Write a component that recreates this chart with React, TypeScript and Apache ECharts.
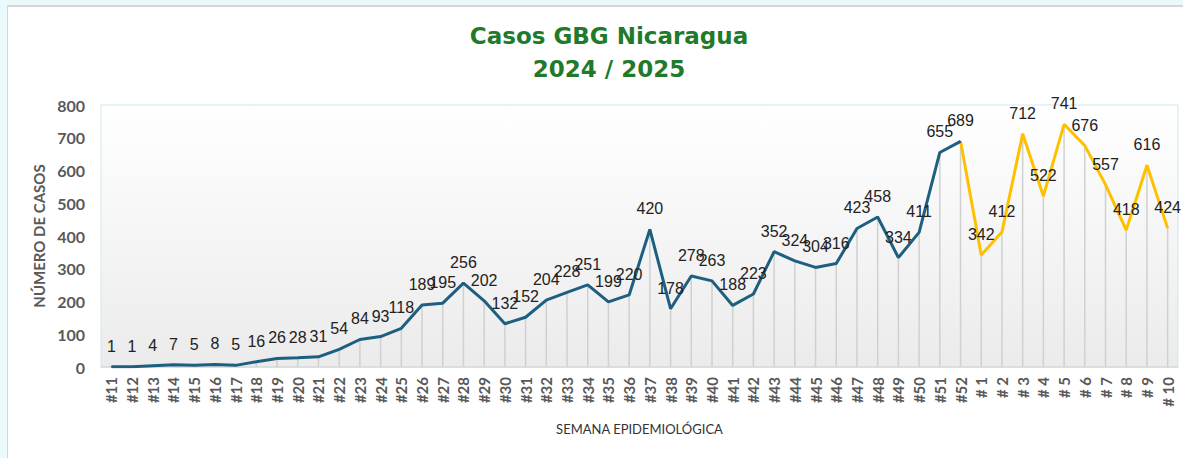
import React, { useEffect, useRef } from "react";
import * as echarts from "echarts";

const weeks2024: string[] = [
  "#11", "#12", "#13", "#14", "#15", "#16", "#17", "#18", "#19", "#20",
  "#21", "#22", "#23", "#24", "#25", "#26", "#27", "#28", "#29", "#30",
  "#31", "#32", "#33", "#34", "#35", "#36", "#37", "#38", "#39", "#40",
  "#41", "#42", "#43", "#44", "#45", "#46", "#47", "#48", "#49", "#50",
  "#51", "#52",
];
const weeks2025: string[] = ["# 1", "# 2", "# 3", "# 4", "# 5", "# 6", "# 7", "# 8", "# 9", "# 10"];

const cases2024: number[] = [
  1, 1, 4, 7, 5, 8, 5, 16, 26, 28,
  31, 54, 84, 93, 118, 189, 195, 256, 202, 132,
  152, 204, 228, 251, 199, 220, 420, 178, 278, 263,
  188, 223, 352, 324, 304, 316, 423, 458, 334, 411,
  655, 689,
];
const cases2025: number[] = [342, 412, 712, 522, 741, 676, 557, 418, 616, 424];

const yTicks = { min: 0, max: 800, interval: 100 };

export default function App() {
  const ref = useRef<HTMLDivElement>(null);

  useEffect(() => {
    if (!ref.current) return;
    const chart = echarts.init(ref.current, undefined, { renderer: "svg" });

    const categories = [...weeks2024, ...weeks2025];
    const all = [...cases2024, ...cases2025];
    const n24 = cases2024.length;

    const blueData = categories.map((_, i) => (i < n24 ? all[i] : null));
    const yellowData = categories.map((_, i) => {
      if (i < n24 - 1) return null;
      if (i === n24 - 1) return { value: all[i], label: { show: false } };
      return all[i];
    });

    const labelStyle = {
      show: true,
      position: "top" as const,
      distance: 12,
      fontFamily: "Liberation Sans",
      fontSize: 16,
      color: "#222222",
    };

    chart.setOption({
      animation: false,
      title: {
        text: "Casos GBG Nicaragua\n2024 / 2025",
        left: 604,
        top: 14,
        textAlign: "center",
        textStyle: {
          fontFamily: "DejaVu Sans",
          fontWeight: "bold",
          fontSize: 23,
          lineHeight: 33,
          color: "#217a2b",
        },
      },
      grid: {
        left: 101,
        top: 105,
        right: 5,
        bottom: 91,
        containLabel: false,
        outerBoundsMode: "none",
        show: true,
        borderColor: "#cfe6f3",
        borderWidth: 1,
        backgroundColor: new echarts.graphic.LinearGradient(0, 0, 0, 1, [
          { offset: 0, color: "#ffffff" },
          { offset: 1, color: "#ebebeb" },
        ]),
      },
      xAxis: {
        type: "category",
        data: categories,
        boundaryGap: true,
        name: "SEMANA EPIDEMIOLÓGICA",
        nameLocation: "middle",
        nameGap: 55,
        nameTextStyle: {
          fontFamily: "Lato",
          fontSize: 13,
          color: "#333333",
        },
        axisLine: { show: true, lineStyle: { color: "#d9d9d9", width: 1.5 } },
        axisTick: { show: false },
        axisLabel: {
          interval: 0,
          rotate: 90,
          margin: 10,
          fontFamily: "Lato",
          fontWeight: "bold",
          fontSize: 15,
          color: "#595959",
        },
        splitLine: { show: false },
      },
      yAxis: {
        type: "value",
        min: yTicks.min,
        max: yTicks.max,
        interval: yTicks.interval,
        name: "NÚMERO DE CASOS",
        nameLocation: "middle",
        nameGap: 52,
        nameTextStyle: {
          fontFamily: "Lato",
          fontWeight: "bold",
          fontSize: 15,
          color: "#595959",
        },
        axisLine: { show: false },
        axisTick: { show: false },
        splitLine: { show: false },
        axisLabel: {
          margin: 16,
          fontFamily: "Lato",
          fontWeight: "bold",
          fontSize: 16,
          color: "#595959",
        },
      },
      series: [
        {
          type: "bar",
          data: all,
          barWidth: 1.5,
          silent: true,
          itemStyle: { color: "#d0d0d0" },
          z: 1,
        },
        {
          type: "line",
          data: blueData,
          symbol: "circle",
          symbolSize: 1,
          showSymbol: true,
          itemStyle: { color: "#1c5f80" },
          lineStyle: { color: "#1c5f80", width: 3 },
          label: labelStyle,
          z: 3,
        },
        {
          type: "line",
          data: yellowData,
          symbol: "circle",
          symbolSize: 1,
          showSymbol: true,
          itemStyle: { color: "#ffc000" },
          lineStyle: { color: "#ffc000", width: 3 },
          label: labelStyle,
          z: 2,
        },
      ],
    });

    return () => chart.dispose();
  }, []);

  return (
    <div
      style={{
        position: "fixed",
        left: 0,
        top: 0,
        width: 1183,
        height: 458,
        background: "#eafafa",
        overflow: "hidden",
      }}
    >
      <div
        style={{
          position: "absolute",
          left: 7,
          top: 5,
          width: 1200,
          height: 500,
          background: "#ffffff",
          borderLeft: "1.5px solid #d6d6d6",
          borderTop: "2px solid #d6d6d6",
        }}
      />
      <div
        ref={ref}
        style={{ position: "absolute", left: 0, top: 0, width: 1183, height: 458 }}
      />
    </div>
  );
}
